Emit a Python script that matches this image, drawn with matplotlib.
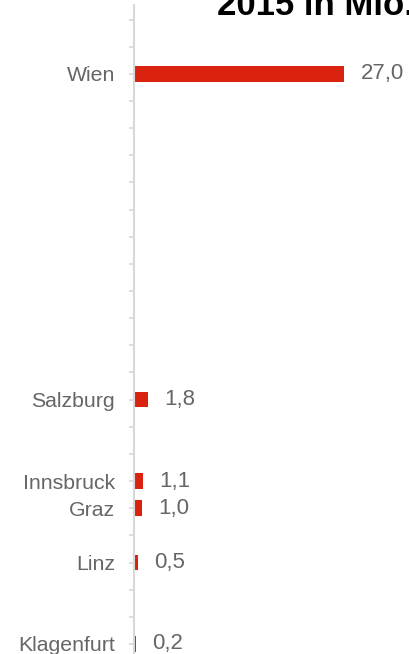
import matplotlib
matplotlib.use("Agg")
import matplotlib.pyplot as plt

plt.rcParams['font.family'] = ['Liberation Sans', 'DejaVu Sans']

# category axis with empty slots, as in the original chart
categories = ["", "", "Wien", "", "", "", "", "", "", "", "", "", "", "",
              "Salzburg", "", "", "Innsbruck", "Graz", "", "Linz", "", "", "Klagenfurt"]
values = [None, None, 27.0, None, None, None, None, None, None, None, None, None, None, None,
          1.8, None, None, 1.1, 1.0, None, 0.5, None, None, 0.2]
title = "2015 in Mio."

bar_color = '#d9230f'
text_color = '#666666'
axis_color = '#d8d8d8'

W, H = 409, 654
fig = plt.figure(figsize=(W / 100, H / 100), dpi=100)
ax = fig.add_axes([134 / W, 0, 275 / W, (H - 5.5) / H])

idx = [i for i, v in enumerate(values) if v is not None]
vals = [values[i] for i in idx]
bars = ax.barh(idx, vals, height=0.58, color=bar_color, edgecolor='none')
for rect, v in zip(bars, vals):
    ax.annotate(('%.1f' % v).replace('.', ','),
                (rect.get_width(), rect.get_y() + rect.get_height() / 2),
                xytext=(12, 0), textcoords='offset points',
                ha='left', va='center', color=text_color, fontsize=16)

ax.set_xlim(0, 35.35)
ax.set_ylim(23.37, -0.516)
ax.set_yticks(range(len(categories)))
ax.set_yticklabels(categories, fontsize=15.3, color=text_color)
ax.tick_params(axis='y', length=3.6, width=1.2, color=axis_color, pad=10)
ax.set_xticks([])
for s in ['top', 'right', 'bottom']:
    ax.spines[s].set_visible(False)
ax.spines['left'].set_color(axis_color)
ax.spines['left'].set_linewidth(1.5)
ax.patch.set_alpha(0)

fig.text(217 / W, 1 - 15 / H, title, ha='left', va='baseline',
         fontsize=25, fontweight='bold', color='black')

fig.savefig("out.png", dpi=100)
